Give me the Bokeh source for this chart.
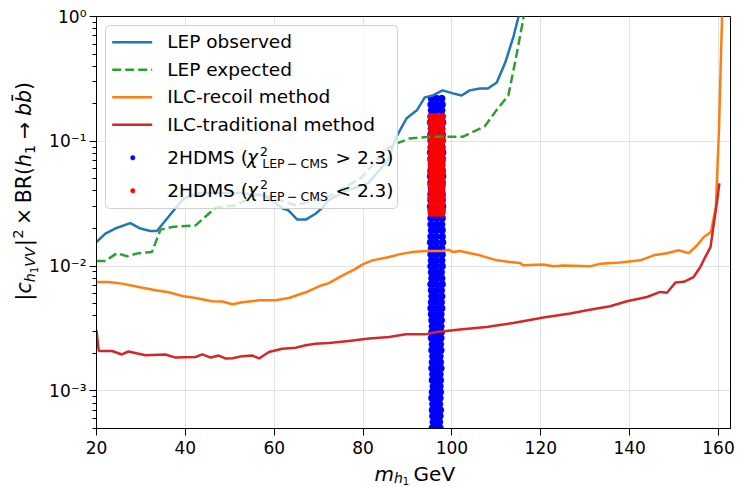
import math
from bokeh.plotting import figure
from bokeh.layouts import row, column
from bokeh.models import (Range1d, FixedTicker, CustomJSTickFormatter, Label,
                          BoxAnnotation, Arrow)
from bokeh.embed import file_html
from bokeh.resources import INLINE

# ---------------- data ----------------
lep_obs_m = [20.0, 22.0, 24.2, 27.6, 29.9, 32.1, 33.6, 37.4, 39.6, 43.2, 52.2, 57.4, 60.5,
             61.9, 63.2, 65.2, 67.1, 69.3, 70.7, 72.1, 76.5, 81.1, 85.6, 87.4, 89.8, 92.1,
             93.9, 95.7, 97.9, 100.2, 102.2, 104.0, 106.3, 108.1, 110.1, 112.0, 113.8, 115.0, 115.6]
lep_obs_v = [0.0156, 0.0182, 0.0200, 0.0221, 0.0200, 0.0191, 0.0191, 0.0280, 0.0347, 0.0385,
             0.0385, 0.0369, 0.0316, 0.0289, 0.0280, 0.0236, 0.0236, 0.0263, 0.0290, 0.0336,
             0.0404, 0.0460, 0.0703, 0.107, 0.153, 0.177, 0.225, 0.233, 0.256, 0.242, 0.233,
             0.256, 0.265, 0.265, 0.296, 0.428, 0.679, 1.0, 1.3]

lep_exp_m = [20.0, 22.0, 24.6, 26.9, 29.5, 32.5, 34.4, 37.0, 42.3, 46.8, 51.3, 56.5, 60.3,
             64.8, 68.0, 72.0, 79.7, 84.9, 87.6, 90.5, 95.7, 102.5, 107.4, 110.0, 112.7,
             114.6, 116.0, 116.5]
lep_exp_v = [0.0110, 0.0110, 0.0127, 0.0120, 0.0127, 0.0130, 0.0196, 0.0206, 0.0212, 0.0294,
             0.0307, 0.0380, 0.0347, 0.0307, 0.0330, 0.0356, 0.0514, 0.0846, 0.0962, 0.1055,
             0.109, 0.109, 0.132, 0.177, 0.233, 0.506, 0.93, 1.3]

ilc_recoil_m = [20.0, 22.7, 25.7, 29.5, 33.3, 36.3, 39.3, 42.3, 46.0, 48.3, 50.6, 52.8, 56.6,
                60.3, 63.3, 67.1, 70.1, 72.3, 75.4, 78.0, 79.9, 82.1, 85.9, 88.1, 91.1, 94.1,
                98.0, 99.2, 100.3, 101.8, 106.3, 110.1, 113.1, 115.3, 116.1, 120.6, 122.8,
                125.1, 131.1, 133.4, 137.9, 142.4, 145.4, 148.4, 151.0, 153.3, 155.2, 156.7,
                158.3, 159.4, 160.1, 160.8, 161.1]
ilc_recoil_v = [0.00746, 0.00746, 0.00724, 0.00680, 0.00640, 0.00617, 0.00577, 0.00555,
                0.00523, 0.00520, 0.00495, 0.00513, 0.00532, 0.00532, 0.00555, 0.00617,
                0.00689, 0.00730, 0.00844, 0.00938, 0.01033, 0.01112, 0.01183, 0.01242,
                0.01297, 0.0132, 0.0132, 0.01356, 0.01297, 0.0132, 0.01220, 0.01112, 0.01079,
                0.01057, 0.01015, 0.0103, 0.00996, 0.0101, 0.00996, 0.01047, 0.0107, 0.01112,
                0.0122, 0.0127, 0.0134, 0.0127, 0.0147, 0.0171, 0.0188, 0.0296, 0.122, 1.0, 1.5]

ilc_trad_m = [20.0, 20.5, 23.5, 25.7, 27.2, 31.0, 35.5, 37.8, 42.3, 43.8, 45.7, 47.5, 49.0,
              50.6, 52.8, 55.1, 56.6, 58.8, 61.8, 64.8, 67.1, 69.3, 72.3, 76.8, 81.4, 85.9,
              89.6, 94.1, 96.6, 101.8, 107.8, 113.8, 120.6, 126.6, 130.4, 135.6, 139.4, 143.9,
              146.9, 148.4, 150.3, 152.2, 154.4, 155.9, 157.0, 158.2, 159.7, 160.2]
ilc_trad_v = [0.00306, 0.00209, 0.00209, 0.00196, 0.00207, 0.00193, 0.00196, 0.00185, 0.00187,
              0.00196, 0.00185, 0.00192, 0.00182, 0.00183, 0.00190, 0.00192, 0.00182, 0.00205,
              0.00218, 0.00222, 0.00232, 0.00239, 0.00242, 0.00251, 0.00263, 0.00271, 0.00284,
              0.00284, 0.00297, 0.00310, 0.00325, 0.00350, 0.00387, 0.00417, 0.00443, 0.00477,
              0.00523, 0.00566, 0.00621, 0.00612, 0.00738, 0.00748, 0.00818, 0.00984, 0.0118,
              0.0142, 0.0336, 0.046]

# 2HDMS points with chi2 > 2.3 (blue): rows of coupling values, three mass columns
blue_y = [0.220, 0.197, 0.177, 0.158, 0.142, 0.127, 0.114, 0.102, 0.0910, 0.0815,
          0.0730, 0.0653, 0.0585, 0.0524, 0.0469, 0.0420, 0.0376, 0.0337, 0.0301, 0.0270,
          0.0242, 0.0216, 0.0194, 0.0173, 0.0155, 0.0139, 0.0124, 0.0111, 0.00998, 0.00893,
          0.00800, 0.00716, 0.00641, 0.00574, 0.00514, 0.00460, 0.00412, 0.00369, 0.00330, 0.00296,
          0.00265, 0.00237, 0.00212, 0.00190, 0.00170, 0.00152, 0.00136, 0.00122, 0.00109, 0.000979,
          0.000877, 0.000785, 0.000703, 0.000630, 0.000564, 0.000505, 0.000452]
blue_m_left = [95.4, 95.3, 95.4, 95.3, 95.2, 95.4, 95.3, 95.3, 95.4, 95.2,
               95.3, 95.4, 95.3, 95.2, 95.3, 95.4, 95.3, 95.3, 95.2, 95.4,
               95.3, 95.3, 95.4, 95.3, 95.2, 95.4, 95.3, 95.4, 95.3, 95.4,
               95.5, 95.3, 95.4, 95.5, 95.4, 95.3, 95.4, 95.5, 95.6, 95.5,
               95.4, 95.6, 95.5, 95.7, 95.6, 95.5, 95.7, 95.6, 95.8, 95.6,
               95.5, 95.7, 95.6, 95.7, 95.8, 95.6, 95.7]
blue_m_mid = [96.5, 96.6, 96.5, 96.4, 96.6, 96.5, 96.5, 96.6, 96.4, 96.5,
              96.6, 96.5, 96.4, 96.5, 96.6, 96.5, 96.5, 96.4, 96.6, 96.5,
              96.5, 96.6, 96.5, 96.4, 96.5, 96.6, 96.5, 96.5, 96.4, 96.6,
              96.5, 96.5, 96.6, 96.4, 96.5, 96.5, 96.6, 96.5, 96.4, 96.5,
              96.5, 96.4, 96.5, 96.6, 96.4, 96.5, 96.4, 96.5, 96.5, 96.4,
              96.5, 96.4, 96.5, 96.4, 96.5, 96.4, 96.5]
blue_m_right = [97.7, 97.8, 97.7, 97.8, 97.9, 97.7, 97.8, 97.8, 97.7, 97.9,
                97.8, 97.7, 97.8, 97.9, 97.8, 97.7, 97.8, 97.8, 97.9, 97.7,
                97.8, 97.7, 97.8, 97.8, 97.9, 97.7, 97.8, 97.7, 97.8, 97.6,
                97.7, 97.8, 97.6, 97.7, 97.6, 97.7, 97.5, 97.6, 97.5, 97.6,
                97.5, 97.4, 97.5, 97.3, 97.4, 97.5, 97.3, 97.4, 97.3, 97.4,
                97.3, 97.2, 97.4, 97.3, 97.2, 97.3, 97.4]

# 2HDMS points with chi2 < 2.3 (red)
red_y = [0.157, 0.140, 0.125, 0.111, 0.0995, 0.0887, 0.0791, 0.0705, 0.0629, 0.0561,
         0.0500, 0.0446, 0.0398, 0.0355, 0.0316, 0.0282, 0.0265]
red_m_left = [95.4, 95.3, 95.4, 95.3, 95.4, 95.3, 95.4, 95.3, 95.4, 95.3, 95.4, 95.3, 95.4,
              95.3, 95.4, 95.3, 95.4]
red_m_mid = [96.5, 96.6, 96.5, 96.5, 96.6, 96.5, 96.4, 96.5, 96.6, 96.5, 96.5, 96.4, 96.5,
             96.6, 96.5, 96.5, 96.5]
red_m_right = [97.7, 97.8, 97.7, 97.8, 97.7, 97.8, 97.7, 97.8, 97.7, 97.8, 97.7, 97.8, 97.7,
               97.8, 97.7, 97.8, 97.7]

x_ticks = [20, 40, 60, 80, 100, 120, 140, 160]
y_ticks = [1e-3, 1e-2, 1e-1, 1.0]

legend_labels = ["LEP observed", "LEP expected", "ILC-recoil method", "ILC-traditional method"]

# ---------------- layout constants (page pixels) ----------------
FONT = "DejaVu Sans"
PAGE_W, PAGE_H = 738, 487
YLAB_W = 44            # strip on the left holding the y-axis title
MAIN_H = 461           # main plot canvas height; x-axis title strip below it
FRAME_L, FRAME_T, FRAME_R, FRAME_B = 96, 16, 730, 428

# ---------------- main figure ----------------
p = figure(width=PAGE_W - YLAB_W, height=MAIN_H, y_axis_type="log",
           x_range=Range1d(20, 162.7), y_range=Range1d(5e-4, 1.0),
           output_backend="svg", toolbar_location=None,
           min_border_left=FRAME_L - YLAB_W, min_border_right=PAGE_W - FRAME_R,
           min_border_top=FRAME_T, min_border_bottom=MAIN_H - FRAME_B)
p.background_fill_color = "white"
p.border_fill_color = "white"
p.outline_line_color = "black"
p.outline_line_alpha = 1.0
p.outline_line_width = 1

# scatter (below the lines, as in matplotlib)
p.scatter(blue_m_left + blue_m_mid + blue_m_right, blue_y * 3, size=7,
          fill_color="#0000ff", line_color="#0000ff", line_width=0.5)
p.scatter(red_m_left + red_m_mid + red_m_right, red_y * 3, size=7,
          fill_color="#ff0000", line_color="#ff0000", line_width=0.5)

LW = 2.5
p.line(lep_obs_m, lep_obs_v, line_color="#1f77b4", line_width=LW)
p.line(lep_exp_m, lep_exp_v, line_color="#2ca02c", line_width=LW, line_dash="9 4")
p.line(ilc_recoil_m, ilc_recoil_v, line_color="#ff7f0e", line_width=LW)
p.line(ilc_trad_m, ilc_trad_v, line_color="#d62728", line_width=LW)

# axes
p.xaxis.ticker = FixedTicker(ticks=x_ticks)
y_minor = [k * 10.0 ** e for e in range(-4, 0) for k in range(2, 10) if 5e-4 <= k * 10.0 ** e <= 1.0]
p.yaxis.ticker = FixedTicker(ticks=y_ticks, minor_ticks=y_minor)
p.yaxis.formatter = CustomJSTickFormatter(code="""
const e = Math.round(Math.log10(tick));
const m = {"-": "⁻", "0": "⁰", "1": "¹", "2": "²", "3": "³", "4": "⁴",
           "5": "⁵", "6": "⁶", "7": "⁷", "8": "⁸", "9": "⁹"};
let s = "";
for (const c of String(e)) { s += m[c]; }
return "10" + s;
""")
for ax in (p.xaxis[0], p.yaxis[0]):
    ax.major_label_text_font = FONT
    ax.major_label_text_font_size = "17px"
    ax.major_label_text_color = "black"
    ax.axis_line_color = "black"
    ax.axis_line_width = 1
    ax.major_tick_line_color = "black"
    ax.major_tick_line_width = 1
    ax.major_tick_in = 0
    ax.major_tick_out = 7
    ax.minor_tick_line_color = "black"
    ax.minor_tick_in = 0
    ax.minor_tick_out = 4
p.xaxis.minor_tick_line_color = None
p.xaxis.major_label_standoff = 5
p.yaxis.major_label_standoff = 3

p.xgrid.ticker = FixedTicker(ticks=x_ticks)
p.ygrid.ticker = FixedTicker(ticks=y_ticks)
for g in (p.xgrid[0], p.ygrid[0]):
    g.grid_line_color = "#b0b0b0"
    g.grid_line_alpha = 0.35
    g.grid_line_width = 1


# ---------------- helper strips for the axis titles ----------------
def strip(w, h):
    f = figure(width=w, height=h, x_range=Range1d(0, w), y_range=Range1d(0, h),
               output_backend="svg", toolbar_location=None,
               x_axis_location=None, y_axis_location=None,
               min_border_left=0, min_border_right=0, min_border_top=0, min_border_bottom=0)
    f.outline_line_color = None
    f.background_fill_color = "white"
    f.border_fill_color = "white"
    f.xgrid.visible = False
    f.ygrid.visible = False
    return f


ylab = strip(YLAB_W, MAIN_H)
xlab = strip(PAGE_W, PAGE_H - MAIN_H)

# ---------------- text helpers ----------------
CW = {'|': 0.337, 'c': 0.550, 'h': 0.634, '1': 0.636, 'V': 0.684, '2': 0.636, '×': 0.838,
      'B': 0.686, 'R': 0.695, '(': 0.390, ')': 0.390, '→': 0.838, 'b': 0.635, 'm': 0.974,
      'G': 0.775, 'e': 0.615, ' ': 0.318, 'H': 0.752, 'D': 0.770, 'M': 0.863, 'S': 0.635,
      'χ': 0.59, 'L': 0.557, 'E': 0.632, 'P': 0.603, '−': 0.838, 'C': 0.698, '>': 0.838,
      '<': 0.838, '.': 0.318, '3': 0.636, '\u0304': 0.0}
BASE_FIX = 0.37   # empirical correction of the alphabetic baseline of SVG labels (em)


def tw(s, fs):
    return sum(CW.get(c, 0.6) for c in s) * fs


def put(fig, ox, oy_bottom, X, Y, text, fs, italic=False, angle=0.0):
    """Label whose baseline starts at page pixel (X, Y); (ox, oy_bottom) = page position of
    the figure frame's left / bottom edge."""
    if angle:
        X = X - BASE_FIX * fs
    else:
        Y = Y - BASE_FIX * fs
    fig.add_layout(Label(x=X - ox, y=oy_bottom - Y, x_units="screen", y_units="screen",
                         text=text, text_font=FONT, text_font_size=f"{fs:.1f}px",
                         text_font_style="italic" if italic else "normal",
                         text_color="black", text_align="left", text_baseline="alphabetic",
                         angle=angle))


def run(fig, ox, oy, X0, Y0, size, pieces, vertical=False):
    pos = 0.0
    for text, italic, scale, shift, pre, post in pieces:
        fs = size * scale
        pos += pre * size
        off = shift * size
        if vertical:
            put(fig, ox, oy, X0 + off, Y0 - pos, text, fs, italic, math.pi / 2)
        else:
            put(fig, ox, oy, X0 + pos, Y0 + off, text, fs, italic)
        pos += tw(text, fs) + post * size


# y-axis title: |c_{h1VV}|^2 x BR(h1 -> b bbar)
run(ylab, 0, MAIN_H, 31, 333, 20.5, [
    ("|", False, 1, 0, 0, 0),
    ("c", True, 1, 0, 0, 0),
    ("h", True, 0.7, 0.2, 0, 0),
    ("1", False, 0.5, 0.32, 0, 0),
    ("VV", True, 0.7, 0.2, 0, 0),
    ("|", False, 1, 0, 0.05, 0),
    ("2", False, 0.7, -0.4, 0.03, 0),
    ("×", False, 1, 0, 0.22, 0.22),
    ("BR(", False, 1, 0, 0, 0),
    ("h", True, 1, 0, 0, 0),
    ("1", False, 0.7, 0.2, 0, 0),
    ("→", False, 1, 0, 0.28, 0.28),
    ("bb\u0304", True, 1, 0, 0, 0),
    (")", False, 1, 0, 0, 0),
], vertical=True)

# x-axis title: m_{h1} GeV
run(xlab, 0, PAGE_H, 374, 480.5, 20, [
    ("m", True, 1, 0, 0, 0),
    ("h", True, 0.7, 0.1, 0, 0),
    ("1", False, 0.5, 0.16, 0, 0),
    ("GeV", False, 1, 0, 0.22, 0),
])

# ---------------- legend (inside the main frame) ----------------
p.add_layout(BoxAnnotation(left=105 - FRAME_L, right=397 - FRAME_L,
                           top=FRAME_B - 25, bottom=FRAME_B - 208,
                           left_units="screen", right_units="screen",
                           top_units="screen", bottom_units="screen",
                           fill_color="white", fill_alpha=0.8,
                           line_color="#cccccc", line_alpha=0.9, line_width=1,
                           border_radius=4))

line_styles = [("#1f77b4", "solid"), ("#2ca02c", "9 4"), ("#ff7f0e", "solid"), ("#d62728", "solid")]
row_mid = [41.7, 69.3, 96.7, 124.3]
LFS = 18.5
for (col, dash), ym, lab in zip(line_styles, row_mid, legend_labels):
    p.add_layout(Arrow(x_start=111.7 - FRAME_L, y_start=FRAME_B - ym,
                       x_end=151.7 - FRAME_L, y_end=FRAME_B - ym,
                       start_units="screen", end_units="screen", end=None,
                       line_color=col, line_width=LW, line_dash=dash))
    put(p, FRAME_L, FRAME_B, 166.7, ym + 6.6, lab, LFS)

for col, base, rel in [("#0000ff", 164.0, ">"), ("#ff0000", 197.0, "<")]:
    cy = base - 6.7
    p.add_layout(BoxAnnotation(left=132.3 - 2.2 - FRAME_L, right=132.3 + 2.2 - FRAME_L,
                               top=FRAME_B - (cy - 2.2), bottom=FRAME_B - (cy + 2.2),
                               left_units="screen", right_units="screen",
                               top_units="screen", bottom_units="screen",
                               fill_color=col, fill_alpha=1.0, line_color=col,
                               line_alpha=1.0, line_width=0.5, border_radius=2))
    put(p, FRAME_L, FRAME_B, 166.7, base, "2HDMS (", LFS)
    put(p, FRAME_L, FRAME_B, 246.5, base, "χ", LFS, italic=True)
    put(p, FRAME_L, FRAME_B, 259.5, base - 8.0, "2", 12.5)
    put(p, FRAME_L, FRAME_B, 261.7, base + 3.5, "LEP", 12.5)
    put(p, FRAME_L, FRAME_B, 286.5, base + 3.5, "−", 12.5)
    put(p, FRAME_L, FRAME_B, 300.0, base + 3.5, "CMS", 12.5)
    put(p, FRAME_L, FRAME_B, 335.0, base, rel + " 2.3)", LFS)

page = column(row(ylab, p, spacing=0), xlab, spacing=0)
open("out.html", "w").write(file_html(page, INLINE))
